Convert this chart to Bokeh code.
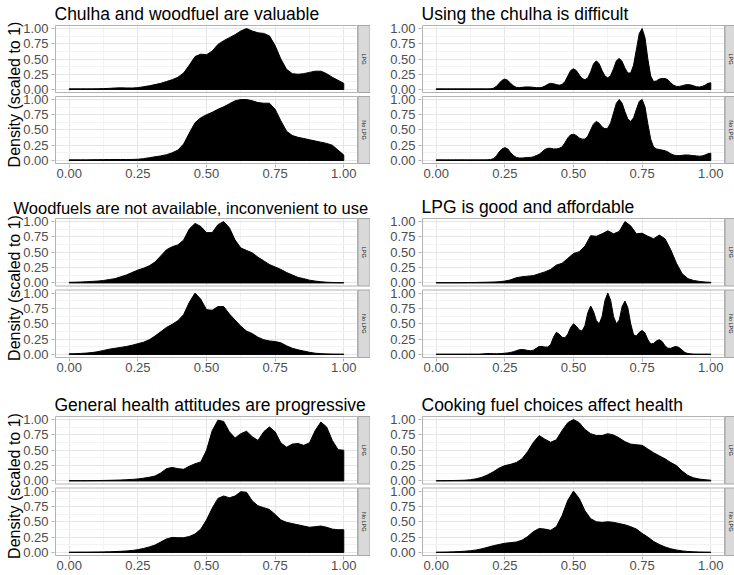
import math
from bokeh.plotting import figure
from bokeh.layouts import column, row
from bokeh.models import Range1d, FixedTicker, CustomJSTickFormatter, PrintfTickFormatter
from bokeh.embed import file_html
from bokeh.resources import INLINE
from bokeh.core.properties import value

# ---------------- data ----------------
x_grid = [0.0000, 0.0208, 0.0417, 0.0625, 0.0833, 0.1042, 0.1250, 0.1458, 0.1667, 0.1875,
          0.2083, 0.2292, 0.2500, 0.2708, 0.2917, 0.3125, 0.3333, 0.3542, 0.3750, 0.3958,
          0.4167, 0.4375, 0.4583, 0.4792, 0.5000, 0.5208, 0.5417, 0.5625, 0.5833, 0.6042,
          0.6250, 0.6458, 0.6667, 0.6875, 0.7083, 0.7292, 0.7500, 0.7708, 0.7917, 0.8125,
          0.8333, 0.8542, 0.8750, 0.8958, 0.9167, 0.9375, 0.9583, 0.9792, 1.0000]

x_fine = [0.0000, 0.0104, 0.0208, 0.0312, 0.0417, 0.0521, 0.0625, 0.0729, 0.0833, 0.0938,
          0.1042, 0.1146, 0.1250, 0.1354, 0.1458, 0.1562, 0.1667, 0.1771, 0.1875, 0.1979,
          0.2083, 0.2188, 0.2292, 0.2396, 0.2500, 0.2604, 0.2708, 0.2812, 0.2917, 0.3021,
          0.3125, 0.3229, 0.3333, 0.3438, 0.3542, 0.3646, 0.3750, 0.3854, 0.3958, 0.4062,
          0.4167, 0.4271, 0.4375, 0.4479, 0.4583, 0.4688, 0.4792, 0.4896, 0.5000, 0.5104,
          0.5208, 0.5312, 0.5417, 0.5521, 0.5625, 0.5729, 0.5833, 0.5938, 0.6042, 0.6146,
          0.6250, 0.6354, 0.6458, 0.6562, 0.6667, 0.6771, 0.6875, 0.6979, 0.7083, 0.7188,
          0.7292, 0.7396, 0.7500, 0.7604, 0.7708, 0.7812, 0.7917, 0.8021, 0.8125, 0.8229,
          0.8333, 0.8438, 0.8542, 0.8646, 0.8750, 0.8854, 0.8958, 0.9062, 0.9167, 0.9271,
          0.9375, 0.9479, 0.9583, 0.9688, 0.9792, 0.9896, 1.0000]

groups = ["LPG", "No LPG"]
titles = ["Chulha and woodfuel are valuable",
          "Using the chulha is difficult",
          "Woodfuels are not available, inconvenient to use",
          "LPG is good and affordable",
          "General health attitudes are progressive",
          "Cooking fuel choices affect health"]
x_ticks = [0.0, 0.25, 0.5, 0.75, 1.0]
x_minor = [0.125, 0.375, 0.625, 0.875]
y_ticks = [0.0, 0.25, 0.5, 0.75, 1.0]
y_minor = [0.125, 0.375, 0.625, 0.875]
y_label = "Density (scaled to 1)"

chulha_lpg = [0.01, 0.01, 0.01, 0.01, 0.01, 0.012, 0.014, 0.018, 0.024, 0.027,
              0.025, 0.024, 0.03, 0.045, 0.06, 0.08, 0.10, 0.13, 0.16, 0.20,
              0.27, 0.40, 0.54, 0.58, 0.57, 0.63, 0.74, 0.80, 0.85, 0.90,
              0.96, 1.00, 0.96, 0.93, 0.92, 0.88, 0.72, 0.50, 0.33, 0.26,
              0.25, 0.26, 0.28, 0.30, 0.30, 0.26, 0.20, 0.15, 0.10]
chulha_nolpg = [0.01, 0.01, 0.01, 0.01, 0.012, 0.013, 0.014, 0.015, 0.016, 0.016,
                0.016, 0.017, 0.02, 0.03, 0.045, 0.06, 0.075, 0.095, 0.125, 0.17,
                0.27, 0.45, 0.62, 0.70, 0.75, 0.79, 0.84, 0.88, 0.93, 0.98,
                1.00, 1.00, 0.98, 0.95, 0.94, 0.94, 0.84, 0.65, 0.48, 0.41,
                0.38, 0.36, 0.34, 0.32, 0.30, 0.28, 0.25, 0.17, 0.09]
# sampled on x_fine
difficult_lpg = [0.01, 0.01, 0.01, 0.01, 0.01, 0.01, 0.01, 0.01, 0.01, 0.01,
                 0.01, 0.01, 0.01, 0.01, 0.01, 0.01, 0.01, 0.01, 0.01, 0.012,
                 0.02, 0.05, 0.10, 0.15, 0.17, 0.15, 0.10, 0.06, 0.035, 0.03,
                 0.035, 0.04, 0.042, 0.04, 0.035, 0.03, 0.03, 0.035, 0.055, 0.085,
                 0.10, 0.095, 0.08, 0.07, 0.08, 0.13, 0.22, 0.31, 0.34, 0.31,
                 0.24, 0.18, 0.16, 0.19, 0.29, 0.42, 0.47, 0.42, 0.31, 0.22,
                 0.19, 0.23, 0.34, 0.47, 0.51, 0.46, 0.35, 0.27, 0.27, 0.40,
                 0.66, 0.92, 1.00, 0.85, 0.50, 0.22, 0.13, 0.14, 0.17, 0.18,
                 0.18, 0.16, 0.11, 0.07, 0.05, 0.05, 0.06, 0.075, 0.08, 0.075,
                 0.06, 0.045, 0.04, 0.05, 0.07, 0.10, 0.11]
difficult_nolpg = [0.01, 0.01, 0.01, 0.01, 0.01, 0.01, 0.01, 0.01, 0.01, 0.01,
                   0.01, 0.01, 0.01, 0.01, 0.01, 0.01, 0.01, 0.01, 0.012, 0.015,
                   0.03, 0.07, 0.14, 0.19, 0.21, 0.19, 0.13, 0.08, 0.05, 0.04,
                   0.04, 0.045, 0.05, 0.05, 0.06, 0.08, 0.10, 0.14, 0.18, 0.20,
                   0.20, 0.19, 0.19, 0.20, 0.22, 0.29, 0.37, 0.42, 0.43, 0.41,
                   0.37, 0.35, 0.35, 0.40, 0.50, 0.60, 0.64, 0.61, 0.55, 0.52,
                   0.53, 0.62, 0.78, 0.94, 1.00, 0.94, 0.80, 0.68, 0.64, 0.70,
                   0.84, 0.97, 1.00, 0.88, 0.60, 0.35, 0.22, 0.19, 0.18, 0.17,
                   0.16, 0.14, 0.11, 0.09, 0.08, 0.08, 0.085, 0.09, 0.09, 0.085,
                   0.08, 0.075, 0.07, 0.075, 0.09, 0.11, 0.12]
wood_lpg = [0.01, 0.012, 0.015, 0.02, 0.025, 0.03, 0.04, 0.055, 0.07, 0.10,
            0.13, 0.17, 0.21, 0.24, 0.28, 0.34, 0.44, 0.54, 0.59, 0.62,
            0.70, 0.88, 0.97, 0.92, 0.82, 0.82, 0.95, 1.00, 0.90, 0.70,
            0.57, 0.53, 0.49, 0.42, 0.36, 0.30, 0.26, 0.22, 0.17, 0.13,
            0.09, 0.07, 0.045, 0.03, 0.02, 0.012, 0.008, 0.005, 0.005]
wood_nolpg = [0.01, 0.012, 0.016, 0.022, 0.03, 0.045, 0.065, 0.085, 0.10, 0.115,
              0.13, 0.15, 0.175, 0.20, 0.24, 0.30, 0.37, 0.44, 0.49, 0.55,
              0.65, 0.85, 1.00, 0.90, 0.73, 0.72, 0.78, 0.78, 0.66, 0.56,
              0.46, 0.38, 0.34, 0.28, 0.24, 0.22, 0.21, 0.19, 0.14, 0.10,
              0.075, 0.055, 0.035, 0.02, 0.013, 0.009, 0.006, 0.005, 0.005]
lpggood_lpg = [0.005, 0.005, 0.005, 0.005, 0.005, 0.006, 0.007, 0.008, 0.01, 0.012,
               0.015, 0.02, 0.03, 0.05, 0.085, 0.10, 0.11, 0.12, 0.15, 0.18,
               0.22, 0.29, 0.32, 0.40, 0.48, 0.51, 0.60, 0.77, 0.76, 0.80,
               0.85, 0.80, 0.84, 1.00, 0.93, 0.80, 0.81, 0.76, 0.72, 0.78,
               0.72, 0.54, 0.32, 0.15, 0.07, 0.04, 0.025, 0.015, 0.01]
# sampled on x_fine
lpggood_nolpg = [0.005, 0.005, 0.005, 0.005, 0.005, 0.005, 0.005, 0.005, 0.005, 0.005,
                 0.005, 0.005, 0.005, 0.005, 0.005, 0.005, 0.008, 0.012, 0.015, 0.014,
                 0.012, 0.012, 0.013, 0.015, 0.02, 0.025, 0.032, 0.045, 0.06, 0.075,
                 0.08, 0.075, 0.065, 0.06, 0.07, 0.10, 0.13, 0.13, 0.12, 0.12,
                 0.16, 0.28, 0.36, 0.33, 0.28, 0.27, 0.33, 0.44, 0.50, 0.46,
                 0.40, 0.38, 0.47, 0.68, 0.79, 0.70, 0.55, 0.50, 0.62, 0.88,
                 1.00, 0.88, 0.62, 0.50, 0.56, 0.78, 0.87, 0.76, 0.50, 0.32,
                 0.30, 0.36, 0.39, 0.35, 0.24, 0.17, 0.18, 0.22, 0.24, 0.21,
                 0.14, 0.10, 0.10, 0.12, 0.13, 0.11, 0.07, 0.03, 0.015, 0.01,
                 0.005, 0.005, 0.005, 0.005, 0.005, 0.005, 0.005]
health_lpg = [0.005, 0.005, 0.005, 0.005, 0.006, 0.007, 0.008, 0.01, 0.012, 0.015,
              0.02, 0.025, 0.032, 0.045, 0.06, 0.08, 0.13, 0.20, 0.22, 0.20,
              0.19, 0.24, 0.28, 0.31, 0.50, 0.82, 0.99, 0.97, 0.80, 0.70,
              0.77, 0.81, 0.72, 0.66, 0.80, 0.88, 0.80, 0.62, 0.55, 0.60,
              0.61, 0.58, 0.62, 0.82, 0.96, 0.88, 0.66, 0.51, 0.50]
health_nolpg = [0.004, 0.004, 0.005, 0.005, 0.006, 0.007, 0.009, 0.011, 0.014, 0.018,
                0.024, 0.032, 0.045, 0.065, 0.09, 0.12, 0.17, 0.22, 0.245, 0.24,
                0.24, 0.26, 0.30, 0.38, 0.53, 0.72, 0.88, 0.92, 0.89, 0.92,
                0.99, 0.98, 0.84, 0.76, 0.73, 0.70, 0.62, 0.53, 0.49, 0.47,
                0.45, 0.43, 0.41, 0.42, 0.43, 0.41, 0.38, 0.37, 0.37]
cooking_lpg = [0.004, 0.005, 0.006, 0.007, 0.009, 0.012, 0.02, 0.035, 0.06, 0.10,
               0.15, 0.21, 0.25, 0.27, 0.30, 0.36, 0.48, 0.63, 0.74, 0.68,
               0.63, 0.67, 0.82, 0.95, 1.00, 0.95, 0.84, 0.77, 0.74, 0.74,
               0.77, 0.75, 0.70, 0.64, 0.60, 0.59, 0.58, 0.52, 0.46, 0.41,
               0.36, 0.30, 0.25, 0.16, 0.09, 0.05, 0.03, 0.02, 0.012]
cooking_nolpg = [0.004, 0.005, 0.007, 0.01, 0.014, 0.02, 0.028, 0.04, 0.06, 0.085,
                 0.11, 0.13, 0.15, 0.16, 0.17, 0.20, 0.26, 0.34, 0.39, 0.38,
                 0.36, 0.42, 0.60, 0.85, 1.00, 0.88, 0.68, 0.55, 0.50, 0.49,
                 0.50, 0.49, 0.47, 0.45, 0.42, 0.38, 0.31, 0.25, 0.18, 0.13,
                 0.09, 0.06, 0.04, 0.025, 0.015, 0.01, 0.007, 0.005, 0.004]

panels = [
    (titles[0], x_grid, chulha_lpg, x_grid, chulha_nolpg),
    (titles[1], x_fine, difficult_lpg, x_fine, difficult_nolpg),
    (titles[2], x_grid, wood_lpg, x_grid, wood_nolpg),
    (titles[3], x_grid, lpggood_lpg, x_fine, lpggood_nolpg),
    (titles[4], x_grid, health_lpg, x_grid, health_nolpg),
    (titles[5], x_grid, cooking_lpg, x_grid, cooking_nolpg),
]

# ---------------- geometry / style ----------------
FONT = "Liberation Sans"
KX = 302 / 1.1                 # px per x unit
FRAME_H = 141
KY = ((FRAME_H - 2 - 4) / 2) / 1.1   # px per y unit
OFF = 1.1 + 4 / KY             # vertical offset of the upper (LPG) facet
row_geom = [(192, 23, 28), (192, 25, 26), (191, 31, 19)]   # height, top, bottom
col_geom = [(370, 54), (364, 51)]                           # width, left border
BORDER = "#B3B3B3"


def make_panel(i):
    r, c = divmod(i, 2)
    title, x_lpg, lpg, x_nolpg, nolpg = panels[i]
    H, top, bottom = row_geom[r]
    W, left = col_geom[c]
    x0 = -0.05 - 1 / KX
    x1 = x0 + (W - left) / KX
    y0 = -0.05 - 1 / KY
    y1 = 1.05 + OFF + 1 / KY
    p = figure(width=W, height=H, x_range=Range1d(x0, x1), y_range=Range1d(y0, y1),
               min_border_left=left, min_border_right=0, min_border_top=top,
               min_border_bottom=bottom, output_backend="svg", toolbar_location=None,
               title=title)
    p.outline_line_color = None
    p.background_fill_color = "white"
    p.border_fill_color = "white"

    p.title.text_font = FONT
    p.title.text_font_size = "17.5px"
    p.title.text_font_style = "normal"
    p.title.text_color = "black"
    p.title.align = "left"
    p.title.standoff = 2
    if i == 2:
        p.title.text_font_size = "16.5px"
        p.title.offset = -41

    p.xaxis.ticker = FixedTicker(ticks=x_ticks, minor_ticks=x_minor)
    p.xaxis.formatter = PrintfTickFormatter(format="%.2f")
    p.yaxis.ticker = FixedTicker(ticks=y_ticks + [t + OFF for t in y_ticks],
                                 minor_ticks=y_minor + [t + OFF for t in y_minor])
    p.yaxis.formatter = CustomJSTickFormatter(
        args=dict(off=OFF),
        code="const v = tick > 1.1 ? tick - off : tick; return Math.abs(v).toFixed(2);")
    for ax in (p.xaxis[0], p.yaxis[0]):
        ax.axis_line_color = None
        ax.major_tick_line_color = BORDER
        ax.major_tick_out = 3
        ax.major_tick_in = 0
        ax.minor_tick_line_color = None
        ax.major_label_text_font = FONT
        ax.major_label_text_font_size = "13px"
        ax.major_label_text_color = "#4D4D4D"
    p.xaxis.major_label_standoff = 0
    p.yaxis.major_label_standoff = 2
    if c == 0:
        p.yaxis.axis_label = y_label
        p.yaxis.axis_label_text_font = FONT
        p.yaxis.axis_label_text_font_size = "16px"
        p.yaxis.axis_label_text_font_style = "normal"
        p.yaxis.axis_label_text_color = "black"
        p.yaxis.axis_label_standoff = -3

    for g in (p.xgrid[0], p.ygrid[0]):
        g.grid_line_color = "#E6E6E6"
        g.grid_line_width = 1
        g.minor_grid_line_color = "#F3F3F3"
        g.minor_grid_line_width = 1

    # density areas
    for xv, vals, off in ((x_lpg, lpg, OFF), (x_nolpg, nolpg, 0.0)):
        xs = [xv[0]] + list(xv) + [xv[-1]]
        ys = [off] + [v + off for v in vals] + [off]
        p.patch(xs, ys, fill_color="black", line_color="black", line_width=1)

    # white space between facets / outside panels
    p.quad(left=[x0, x0, x0, x0, 1.05],
           right=[x1, -0.05, x1, x1, x1],
           bottom=[1.05, y0, y0, 1.05 + OFF, y0],
           top=[OFF - 0.05, y1, -0.05, y1, y1],
           fill_color="white", line_color=None)
    # panel borders
    p.quad(left=[-0.05, -0.05], right=[1.05, 1.05],
           bottom=[OFF - 0.05, -0.05], top=[OFF + 1.05, 1.05],
           fill_color=None, line_color=BORDER, line_width=1)
    # strips
    s0 = 1.05 + 0.5 / KX
    s1 = 1.05 + 12.5 / KX
    p.quad(left=[s0, s0], right=[s1, s1],
           bottom=[OFF - 0.05, -0.05], top=[OFF + 1.05, 1.05],
           fill_color="#D9D9D9", line_color="#A6A6A6", line_width=1)
    p.text(x=[(s0 + s1) / 2] * 2, y=[OFF + 0.5, 0.5], text=groups,
           angle=-math.pi / 2, text_font=value(FONT), text_font_size="5.5px",
           text_align="center", text_baseline="middle", text_color="#1A1A1A")
    return p


figs = [make_panel(i) for i in range(6)]
layout = column(row(figs[0], figs[1]), row(figs[2], figs[3]), row(figs[4], figs[5]))

open("out.html", "w").write(file_html(layout, INLINE))
